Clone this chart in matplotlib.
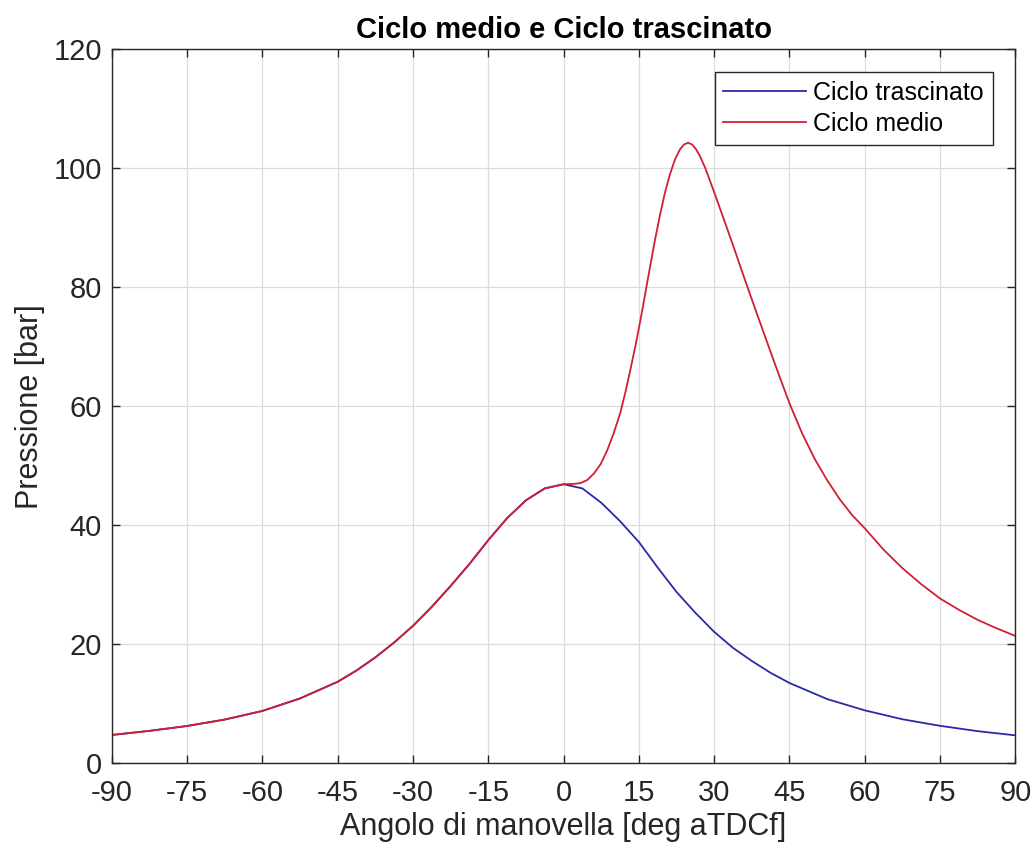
import numpy as np
import matplotlib.pyplot as plt

plt.rcParams['font.family'] = ['Liberation Sans', 'DejaVu Sans']
plt.rcParams['axes.unicode_minus'] = False

# crank angle [deg aTDCf] and pressure [bar]
theta_motored = [-90, -82.5, -75, -67.5, -60, -52.5, -45, -41.25, -37.5, -33.75, -30, -26.25,
                 -22.5, -18.75, -15, -11.25, -7.5, -3.75, 0,
                 3.75, 7.5, 11.25, 15, 18.75, 22.5, 26.25, 30, 33.75, 37.5, 41.25, 45,
                 52.5, 60, 67.5, 75, 82.5, 90]
p_motored = [4.76, 5.45, 6.27, 7.35, 8.8, 10.9, 13.7, 15.6, 17.8, 20.3, 23.1, 26.3,
             29.8, 33.5, 37.5, 41.2, 44.2, 46.2, 46.9,
             46.2, 43.8, 40.7, 37.2, 32.9, 28.8, 25.3, 22.1, 19.4, 17.2, 15.2, 13.5,
             10.8, 8.9, 7.4, 6.3, 5.4, 4.7]

theta_fired = [-90, -82.5, -75, -67.5, -60, -52.5, -45, -41.25, -37.5, -33.75, -30, -26.25,
               -22.5, -18.75, -15, -11.25, -7.5, -3.75, 0,
               2, 3.4, 4.7, 6.05, 7.4, 8.7, 10, 11.3, 12.3, 13.3, 14.3, 15.3, 16.2, 17.2,
               18.2, 19.2, 20.2, 21.2, 22.2, 23.2, 24.0, 24.8, 25.6, 26.4, 27.2, 28.2, 30,
               32.2, 34.2, 36.2, 38.2, 40.2, 42.2, 45, 47.5, 50, 52.5, 55, 57.5, 60,
               63.75, 67.5, 71.25, 75, 78.75, 82.5, 86.25, 90]
p_fired = [4.76, 5.45, 6.27, 7.35, 8.8, 10.9, 13.7, 15.6, 17.8, 20.3, 23.1, 26.3,
           29.8, 33.5, 37.5, 41.2, 44.2, 46.2, 46.9,
           46.95, 47.1, 47.6, 48.7, 50.3, 52.6, 55.5, 58.9, 62.3, 66.1, 70.1, 74.4, 78.6, 83.3,
           87.9, 92.1, 95.9, 99.0, 101.5, 103.2, 104.0, 104.3, 104.0, 103.2, 102.0, 100.1, 96.0,
           90.8, 86.0, 81.1, 76.3, 71.6, 66.9, 60.5, 55.5, 51.2, 47.6, 44.4, 41.7, 39.5,
           35.9, 32.8, 30.1, 27.7, 25.8, 24.1, 22.7, 21.4]

fig = plt.figure(figsize=(10.35, 8.5), dpi=100)
ax = fig.add_axes([0.108, 0.102, 0.873, 0.840])

ax.plot(theta_motored, p_motored, color='#2a2aa6', lw=1.3, label='Ciclo trascinato',
        solid_joinstyle='round')
ax.plot(theta_fired, p_fired, color='#d01f30', lw=1.3, label='Ciclo medio',
        solid_joinstyle='round')

ax.set_xlim(-90, 90)
ax.set_ylim(0, 120)
ax.set_xticks(np.arange(-90, 91, 15))
ax.set_yticks(np.arange(0, 121, 20))
ax.grid(True, color='#dcdcdc', lw=0.9)
ax.set_axisbelow(True)
ax.tick_params(direction='in', length=6, width=1, top=True, right=True,
               labelsize=21, colors='#262626')
ax.tick_params(axis='x', pad=11)
ax.tick_params(axis='y', pad=7)
for s in ax.spines.values():
    s.set_color('#262626')
    s.set_linewidth(1.0)

ax.set_xlabel('Angolo di manovella [deg aTDCf]', fontsize=22, color='#262626', labelpad=4)
ax.set_ylabel('Pressione [bar]', fontsize=22, color='#262626', labelpad=6)
ax.set_title('Ciclo medio e Ciclo trascinato', fontsize=21, fontweight='bold', pad=8)

leg = ax.legend(loc='upper right', fontsize=18, handlelength=3.3, handletextpad=0.3,
                fancybox=False, framealpha=1, borderpad=0.35, labelspacing=0.3,
                borderaxespad=0.9)
leg.get_frame().set_edgecolor('#262626')
leg.get_frame().set_linewidth(1.0)

fig.savefig('out.png', dpi=100)
